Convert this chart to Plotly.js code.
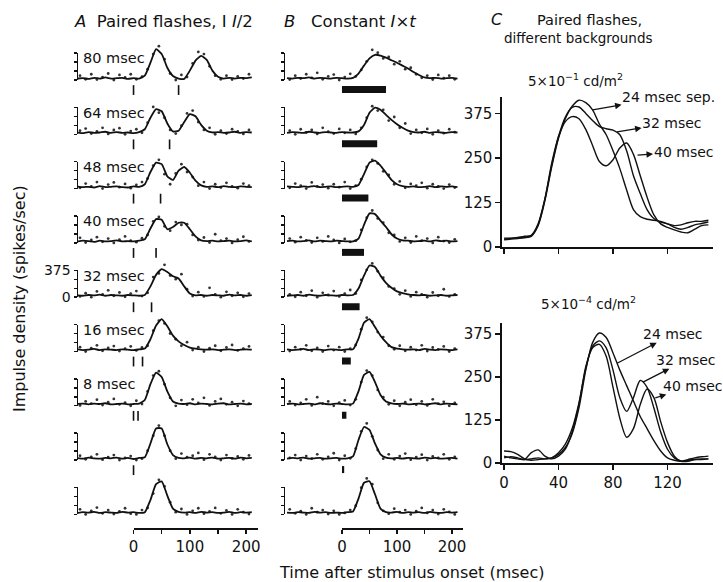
<!DOCTYPE html>
<html><head><meta charset="utf-8">
<script src="https://cdn.plot.ly/plotly-3.0.1.min.js"></script>
<style>html,body{margin:0;padding:0;background:#fff}#chart{width:723px;height:582px}</style>
</head><body><div id="chart"></div>
<script>
// ---------------- DATA ----------------
const CURVE_X = [-100,-90,-80,-70,-60,-50,-40,-30,-20,-10,0,10,20,30,40,50,60,70,80,90,100,110,120,130,140,150,160,170,180,190,200,210];
const DOT_X = [-95,-85,-75,-65,-55,-45,-35,-25,-15,-5,5,15,25,35,45,55,65,75,85,95,105,115,125,135,145,155,165,175,185,195,205];
const SCALE_TICKS = [0,125,250,375];
const SCALE_LABELS = ['0','','','375'];
const BOTTOM_TICKS = [0,50,100,150,200];
const BOTTOM_LABELS = ['0','','100','','200'];

// Column A: paired flashes
const A_LABELS = ['80 msec','64 msec','48 msec','40 msec','32 msec','16 msec','8 msec','',''];
const A_FLASHES = [[0,80],[0,64],[0,48],[0,40],[0,32],[0,16],[0,8],[0],[]];
const A_CURVES = [
 [20,25,15,30,20,35,20,25,30,15,25,20,60,240,430,360,170,55,20,15,130,270,335,280,130,45,20,30,20,30,25,35],
 [25,15,30,20,25,35,20,30,20,25,15,30,70,230,350,320,150,40,50,170,280,250,130,50,25,30,20,25,35,20,30,25],
 [30,20,25,15,35,20,25,30,20,15,30,25,60,230,360,340,170,120,250,300,220,110,45,25,30,20,35,25,20,30,25,20],
 [20,30,25,15,30,20,25,35,20,25,20,30,50,200,330,320,190,220,280,280,190,90,35,25,30,20,25,30,20,25,35,20],
 [25,20,30,25,35,20,30,25,20,30,25,20,30,150,310,390,350,290,260,150,50,25,30,20,30,25,20,35,25,30,20,30],
 [30,20,25,35,20,30,25,20,30,25,20,30,40,170,360,450,350,220,140,90,55,40,30,25,30,20,25,30,20,25,30,25],
 [25,30,20,30,25,35,20,25,30,20,25,30,80,300,460,400,200,60,30,25,35,20,30,25,20,30,35,20,25,30,20,25],
 [30,20,35,25,20,30,25,35,20,30,15,30,40,230,440,440,220,70,30,25,35,20,30,25,35,20,25,30,20,35,25,30],
 [20,30,25,35,20,30,25,20,35,25,30,20,30,200,420,460,260,80,35,25,30,20,35,25,30,20,25,35,20,30,25,30]
];
const A_DOTS = [
 [60,10,80,5,40,90,0,70,35,80,10,45,150,360,470,290,90,0,70,40,230,390,360,190,60,10,60,5,50,20,80],
 [50,80,10,40,90,5,60,85,0,45,70,20,160,380,300,230,60,10,120,290,330,170,60,90,0,50,10,70,40,5,60],
 [10,70,30,90,0,55,85,20,65,5,50,90,140,320,400,200,60,210,340,230,160,40,90,0,60,15,80,30,5,70,40],
 [70,5,40,80,15,60,0,45,90,30,10,65,110,300,360,230,170,290,250,260,110,40,75,5,120,30,60,0,45,85,20],
 [10,55,0,80,40,95,20,65,5,50,85,15,60,280,330,450,300,250,320,110,15,70,10,130,40,0,75,20,60,5,50],
 [60,0,45,85,10,50,75,5,40,70,15,55,80,290,430,390,250,170,80,130,20,60,0,45,80,10,55,90,15,40,70],
 [5,60,30,85,10,50,95,20,45,0,70,25,200,420,480,300,110,0,80,15,90,40,110,5,60,95,20,50,0,65,30],
 [60,10,45,80,5,40,70,0,30,55,0,20,130,340,480,340,130,20,90,40,60,100,5,80,45,0,70,25,50,10,65],
 [70,0,50,95,15,60,5,40,85,10,0,60,90,290,480,390,170,30,75,0,50,85,10,40,90,15,55,0,70,30,5]
];

// Column B: constant I x t
const B_DURATIONS = [80,64,48,40,32,16,8,4,0];
const B_CURVES = [
 [25,20,30,25,35,20,30,25,20,30,25,20,30,90,200,300,350,340,310,275,240,200,160,110,70,35,25,30,20,25,30,20],
 [20,30,25,20,35,25,20,30,25,20,30,25,25,40,130,300,370,340,270,200,140,90,50,30,25,35,20,30,25,20,30,25],
 [30,25,20,30,25,35,20,25,30,20,25,30,25,50,200,360,390,320,220,120,60,35,25,30,20,25,35,20,30,25,30,20],
 [25,30,20,25,35,20,30,25,20,30,25,20,20,60,250,410,400,310,220,120,60,35,30,20,25,30,20,35,25,30,20,25],
 [20,25,30,20,35,25,20,30,25,20,30,25,30,120,300,440,420,300,200,130,80,55,40,30,25,30,20,25,30,20,25,30],
 [30,20,25,35,20,30,25,20,30,25,20,30,30,180,400,450,340,220,130,60,40,30,25,30,20,35,25,20,30,25,20,30],
 [25,30,20,25,30,20,35,25,20,30,25,20,30,200,430,470,330,150,60,35,25,30,20,25,30,20,25,35,20,30,25,20],
 [20,30,25,35,20,25,30,20,25,30,20,25,50,280,460,420,230,80,35,25,30,20,30,25,20,35,25,30,20,25,30,20],
 [25,20,30,25,20,35,25,30,20,25,20,30,40,220,440,460,280,80,30,25,35,20,30,25,30,20,35,25,20,30,25,30]
];
const B_DOTS = [
 [5,60,20,80,30,100,10,50,75,0,40,85,50,140,260,420,380,300,320,220,260,150,170,80,30,60,5,70,25,60,10],
 [50,0,70,25,60,5,90,35,10,75,20,60,5,90,230,390,330,340,190,240,90,150,10,60,20,75,0,50,15,70,30],
 [10,70,40,0,85,30,55,5,60,20,90,0,40,130,300,400,350,240,190,60,100,10,65,40,80,5,60,30,0,55,15],
 [60,10,80,35,5,70,20,90,40,0,55,15,30,180,350,450,340,280,140,110,20,70,5,90,30,60,0,80,25,5,50],
 [40,5,70,20,90,0,60,30,85,10,50,100,50,240,380,470,360,270,150,120,40,90,10,70,40,0,65,20,110,10,40],
 [5,60,30,85,10,50,0,75,20,60,0,40,90,310,470,410,270,200,80,30,80,10,60,20,85,5,55,30,70,0,40],
 [60,10,40,90,5,120,30,60,0,45,75,10,90,330,490,420,220,120,20,70,0,50,85,15,60,5,90,30,55,0,40],
 [30,70,0,55,20,80,10,45,95,0,60,25,160,400,510,330,140,20,80,10,55,90,5,40,75,0,50,30,80,10,45],
 [70,15,45,0,85,30,60,5,50,0,20,60,120,370,500,420,160,50,10,80,30,60,0,45,90,20,60,5,70,35,0]
];

// Column C: paired flashes, different backgrounds
const C_X = [0,5,10,15,20,25,30,35,40,45,50,55,60,65,70,75,80,85,90,95,100,105,110,115,120,125,130,135,140,145,150];
const C_TICKS_X = [0,40,80,120];
const C_HIGH_24 = [22,24,26,28,32,60,130,225,305,360,395,412,405,385,345,315,270,220,160,105,85,78,75,72,65,55,50,55,62,66,70];
const C_HIGH_32 = [25,25,27,30,33,65,135,230,310,365,392,393,375,355,338,332,328,315,270,200,150,105,80,70,65,60,62,68,72,72,75];
const C_HIGH_40 = [20,22,24,26,30,62,135,235,310,352,366,360,330,285,240,228,245,278,292,260,200,140,90,65,55,48,42,40,50,60,62];
const C_LOW_24 = [20,15,12,10,12,15,12,15,25,45,85,160,270,350,378,365,320,270,225,180,135,100,65,35,15,8,5,10,15,18,20];
const C_LOW_32 = [35,33,25,12,8,10,12,15,30,55,100,175,275,340,355,335,270,190,150,190,240,220,160,90,40,15,5,5,10,12,12];
const C_LOW_40 = [15,18,15,10,30,38,20,12,20,40,90,170,280,335,345,310,220,130,75,100,170,215,190,120,60,20,5,8,10,10,12];

// ---------------- LAYOUT HELPERS ----------------
const W = 723, H = 582;
const FONT = 'DejaVu Sans, sans-serif';
const INK = '#111';
const fx = p => p / W;
const fy = p => 1 - p / H;
const ROW_BASE = i => 80 + 54.3 * i;
const ROW_UP = 40, ROW_DOWN = 14;
const Y_RANGE = [-195, 556];
const A_DOM = [78, 258], A_RANGE = [-98.6, 221];
const B_DOM = [285, 463], B_RANGE = [-103.6, 220];
const FLASH_Y = -140, BAR_Y = -132;

const data = [], annotations = [];
const layout = {
  width: W, height: H, margin: {l:0, r:0, t:0, b:0},
  paper_bgcolor: '#fff', plot_bgcolor: 'rgba(0,0,0,0)',
  showlegend: false, hovermode: false,
  font: {family: FONT, color: INK}
};
const axn = (n, a) => a + 'axis' + (n === 1 ? '' : n);
const rf = (n, a) => a + (n === 1 ? '' : n);
let nextAxis = 21;

// pixel position of a value on a row axis
const valToPx = (v, dom, rng) => dom[0] + (v - rng[0]) / (rng[1] - rng[0]) * (dom[1] - dom[0]);
const pxPerUnitY = (ROW_UP + ROW_DOWN) / (Y_RANGE[1] - Y_RANGE[0]);

function hiddenAxis(domain, range, anchor) {
  return {domain: domain, range: range, anchor: anchor, visible: false, showgrid: false, zeroline: false};
}

function addRow(col, i, n, curve, dots) {
  const dom = col === 'A' ? A_DOM : B_DOM;
  const rng = col === 'A' ? A_RANGE : B_RANGE;
  const b = ROW_BASE(i);
  const xDom = [fx(dom[0]), fx(dom[1])];
  layout[axn(n,'x')] = hiddenAxis(xDom, rng, rf(n,'y'));
  layout[axn(n,'y')] = hiddenAxis([fy(b + ROW_DOWN), fy(b - ROW_UP)], Y_RANGE, rf(n,'x'));

  // scale bracket: a real axis spanning 0..375 on the same vertical scale
  const k = nextAxis++;
  const sTop = SCALE_TICKS[SCALE_TICKS.length - 1];
  const lab = col === 'A' && i === 4;
  layout[axn(k,'x')] = hiddenAxis(xDom, rng, rf(k,'y'));
  layout[axn(k,'y')] = {
    domain: [fy(b), fy(b - sTop * pxPerUnitY)], range: [SCALE_TICKS[0], sTop], anchor: rf(k,'x'),
    showgrid: false, zeroline: false, showline: true, linecolor: INK, linewidth: 1.5,
    ticks: 'outside', tickvals: SCALE_TICKS, ticktext: SCALE_LABELS, showticklabels: lab,
    ticklen: 3, tickwidth: 1.4, tickcolor: INK,
    tickfont: {family: FONT, size: 14, color: INK}
  };
  data.push({x: [null], y: [null], xaxis: rf(k,'x'), yaxis: rf(k,'y'), type: 'scatter', mode: 'lines', hoverinfo: 'skip'});

  if (i === 8) {
    // time axis starting at stimulus onset
    const m = nextAxis++;
    const p0 = valToPx(0, dom, rng);
    layout[axn(m,'x')] = {
      domain: [fx(p0), fx(dom[1])], range: [0, rng[1]], anchor: rf(m,'y'),
      showgrid: false, zeroline: false, showline: true, linecolor: INK, linewidth: 1.6,
      ticks: 'outside', tickvals: BOTTOM_TICKS, ticktext: BOTTOM_LABELS, showticklabels: true,
      ticklen: 4, tickwidth: 1.5, tickcolor: INK,
      tickfont: {family: FONT, size: 15, color: INK}
    };
    layout[axn(m,'y')] = hiddenAxis([fy(b + ROW_DOWN), fy(b + ROW_DOWN - 1)], [0, 1], rf(m,'x'));
    data.push({x: [null], y: [null], xaxis: rf(m,'x'), yaxis: rf(m,'y'), type: 'scatter', mode: 'lines', hoverinfo: 'skip'});
  }

  data.push({x: DOT_X, y: dots, xaxis: rf(n,'x'), yaxis: rf(n,'y'), type: 'scatter', mode: 'markers',
    marker: {size: 2.8, color: '#333'}, cliponaxis: false, hoverinfo: 'skip'});
  data.push({x: CURVE_X, y: curve, xaxis: rf(n,'x'), yaxis: rf(n,'y'), type: 'scatter', mode: 'lines',
    line: {color: INK, width: 1.8, shape: 'spline', smoothing: 0.5}, hoverinfo: 'skip'});
}

for (let i = 0; i < 9; i++) {
  const n = i + 1;
  addRow('A', i, n, A_CURVES[i], A_DOTS[i]);
  if (A_FLASHES[i].length) {
    data.push({x: A_FLASHES[i], y: A_FLASHES[i].map(() => FLASH_Y), xaxis: rf(n,'x'), yaxis: rf(n,'y'),
      type: 'scatter', mode: 'markers', cliponaxis: false,
      marker: {symbol: 'line-ns-open', size: 7, color: INK, line: {width: 1.6, color: INK}}});
  }
  if (A_LABELS[i]) {
    annotations.push({xref: rf(n,'x') + ' domain', x: 0, xanchor: 'left', xshift: 3,
      yref: rf(n,'y'), y: 300, yanchor: 'middle', text: A_LABELS[i], showarrow: false,
      font: {family: FONT, size: 14.5, color: INK}});
  }
}
for (let i = 0; i < 9; i++) {
  const n = i + 10;
  addRow('B', i, n, B_CURVES[i], B_DOTS[i]);
  if (B_DURATIONS[i] > 0) {
    data.push({x: [0, B_DURATIONS[i]], y: [BAR_Y, BAR_Y], xaxis: rf(n,'x'), yaxis: rf(n,'y'),
      type: 'scatter', mode: 'lines', line: {color: INK, width: 7}, cliponaxis: false});
  }
}

// Column C axes
const C_XRANGE = [-1.5, 153.4];
function cAxes(n, top, bottomPx, yTop, showX) {
  layout[axn(n,'x')] = {
    domain: [fx(502), fx(713)], range: C_XRANGE, anchor: rf(n,'y'),
    showgrid: false, zeroline: false, showline: true, linecolor: INK, linewidth: 1.6,
    ticks: 'outside', ticklen: 5, tickwidth: 1.5, tickcolor: INK,
    tickvals: C_TICKS_X, showticklabels: showX,
    tickfont: {family: FONT, size: 15, color: INK}
  };
  layout[axn(n,'y')] = {
    domain: [fy(bottomPx), fy(top)], range: [0, yTop], anchor: rf(n,'x'),
    showgrid: false, zeroline: false, showline: true, linecolor: INK, linewidth: 1.6,
    ticks: 'outside', ticklen: 5, tickwidth: 1.5, tickcolor: INK,
    tickvals: SCALE_TICKS, showticklabels: true,
    tickfont: {family: FONT, size: 15, color: INK}
  };
}
cAxes(19, 97, 247, 421, false);
cAxes(20, 323, 463, 407, true);
[[C_HIGH_24,19],[C_HIGH_32,19],[C_HIGH_40,19],[C_LOW_24,20],[C_LOW_32,20],[C_LOW_40,20]].forEach(([ys, n]) => {
  data.push({x: C_X, y: ys, xaxis: rf(n,'x'), yaxis: rf(n,'y'), type: 'scatter', mode: 'lines',
    line: {color: INK, width: 1.4, shape: 'spline', smoothing: 0.8}, hoverinfo: 'skip'});
});

function arrowNote(n, text, x, y, ax, ay) {
  annotations.push({xref: rf(n,'x'), yref: rf(n,'y'), x: x, y: y, ax: ax, ay: ay, text: text,
    showarrow: true, arrowside: 'start', startarrowhead: 2, startarrowsize: 1, arrowwidth: 1.3,
    arrowcolor: INK, standoff: 0, startstandoff: 0, borderpad: 0,
    font: {family: FONT, size: 14, color: INK}});
}
arrowNote(19, '24 msec sep.', 65, 385, 76, -13);
arrowNote(19, '32 msec', 83, 323, 55, -9);
arrowNote(19, '40 msec', 98, 258, 46, -3);
arrowNote(20, '24 msec', 83, 290, 56, -29);
arrowNote(20, '32 msec', 102, 235, 43, -22);
arrowNote(20, '40 msec', 111, 189, 38, -12);

function paperText(text, xPx, yPx, size, xanchor, extra) {
  annotations.push(Object.assign({xref: 'paper', yref: 'paper', x: fx(xPx), y: fy(yPx), xanchor: xanchor,
    yanchor: 'middle', text: text, showarrow: false, font: {family: FONT, size: size, color: INK}}, extra || {}));
}
paperText('<i>A</i>  Paired flashes, I <i>I</i>/2', 72, 22, 16.5, 'left');
paperText('<i>B</i>   Constant <i>I</i>×<i>t</i>', 282, 22, 16.5, 'left');
paperText('<i>C</i>', 497, 20, 16, 'center');
paperText('Paired flashes,', 589, 20, 14.5, 'center');
paperText('different backgrounds', 578, 38, 13.5, 'center');
paperText('5×10<sup>−1</sup> cd/m<sup>2</sup>', 575, 80, 13.5, 'center');
paperText('5×10<sup>−4</sup> cd/m<sup>2</sup>', 588, 303, 13.5, 'center');
paperText('Impulse density (spikes/sec)', 19, 299, 16, 'center', {textangle: -90});
paperText('Time after stimulus onset (msec)', 411, 572, 16, 'center');

layout.annotations = annotations;
Plotly.newPlot('chart', data, layout, {displayModeBar: false, staticPlot: true});
</script>
</body></html>
